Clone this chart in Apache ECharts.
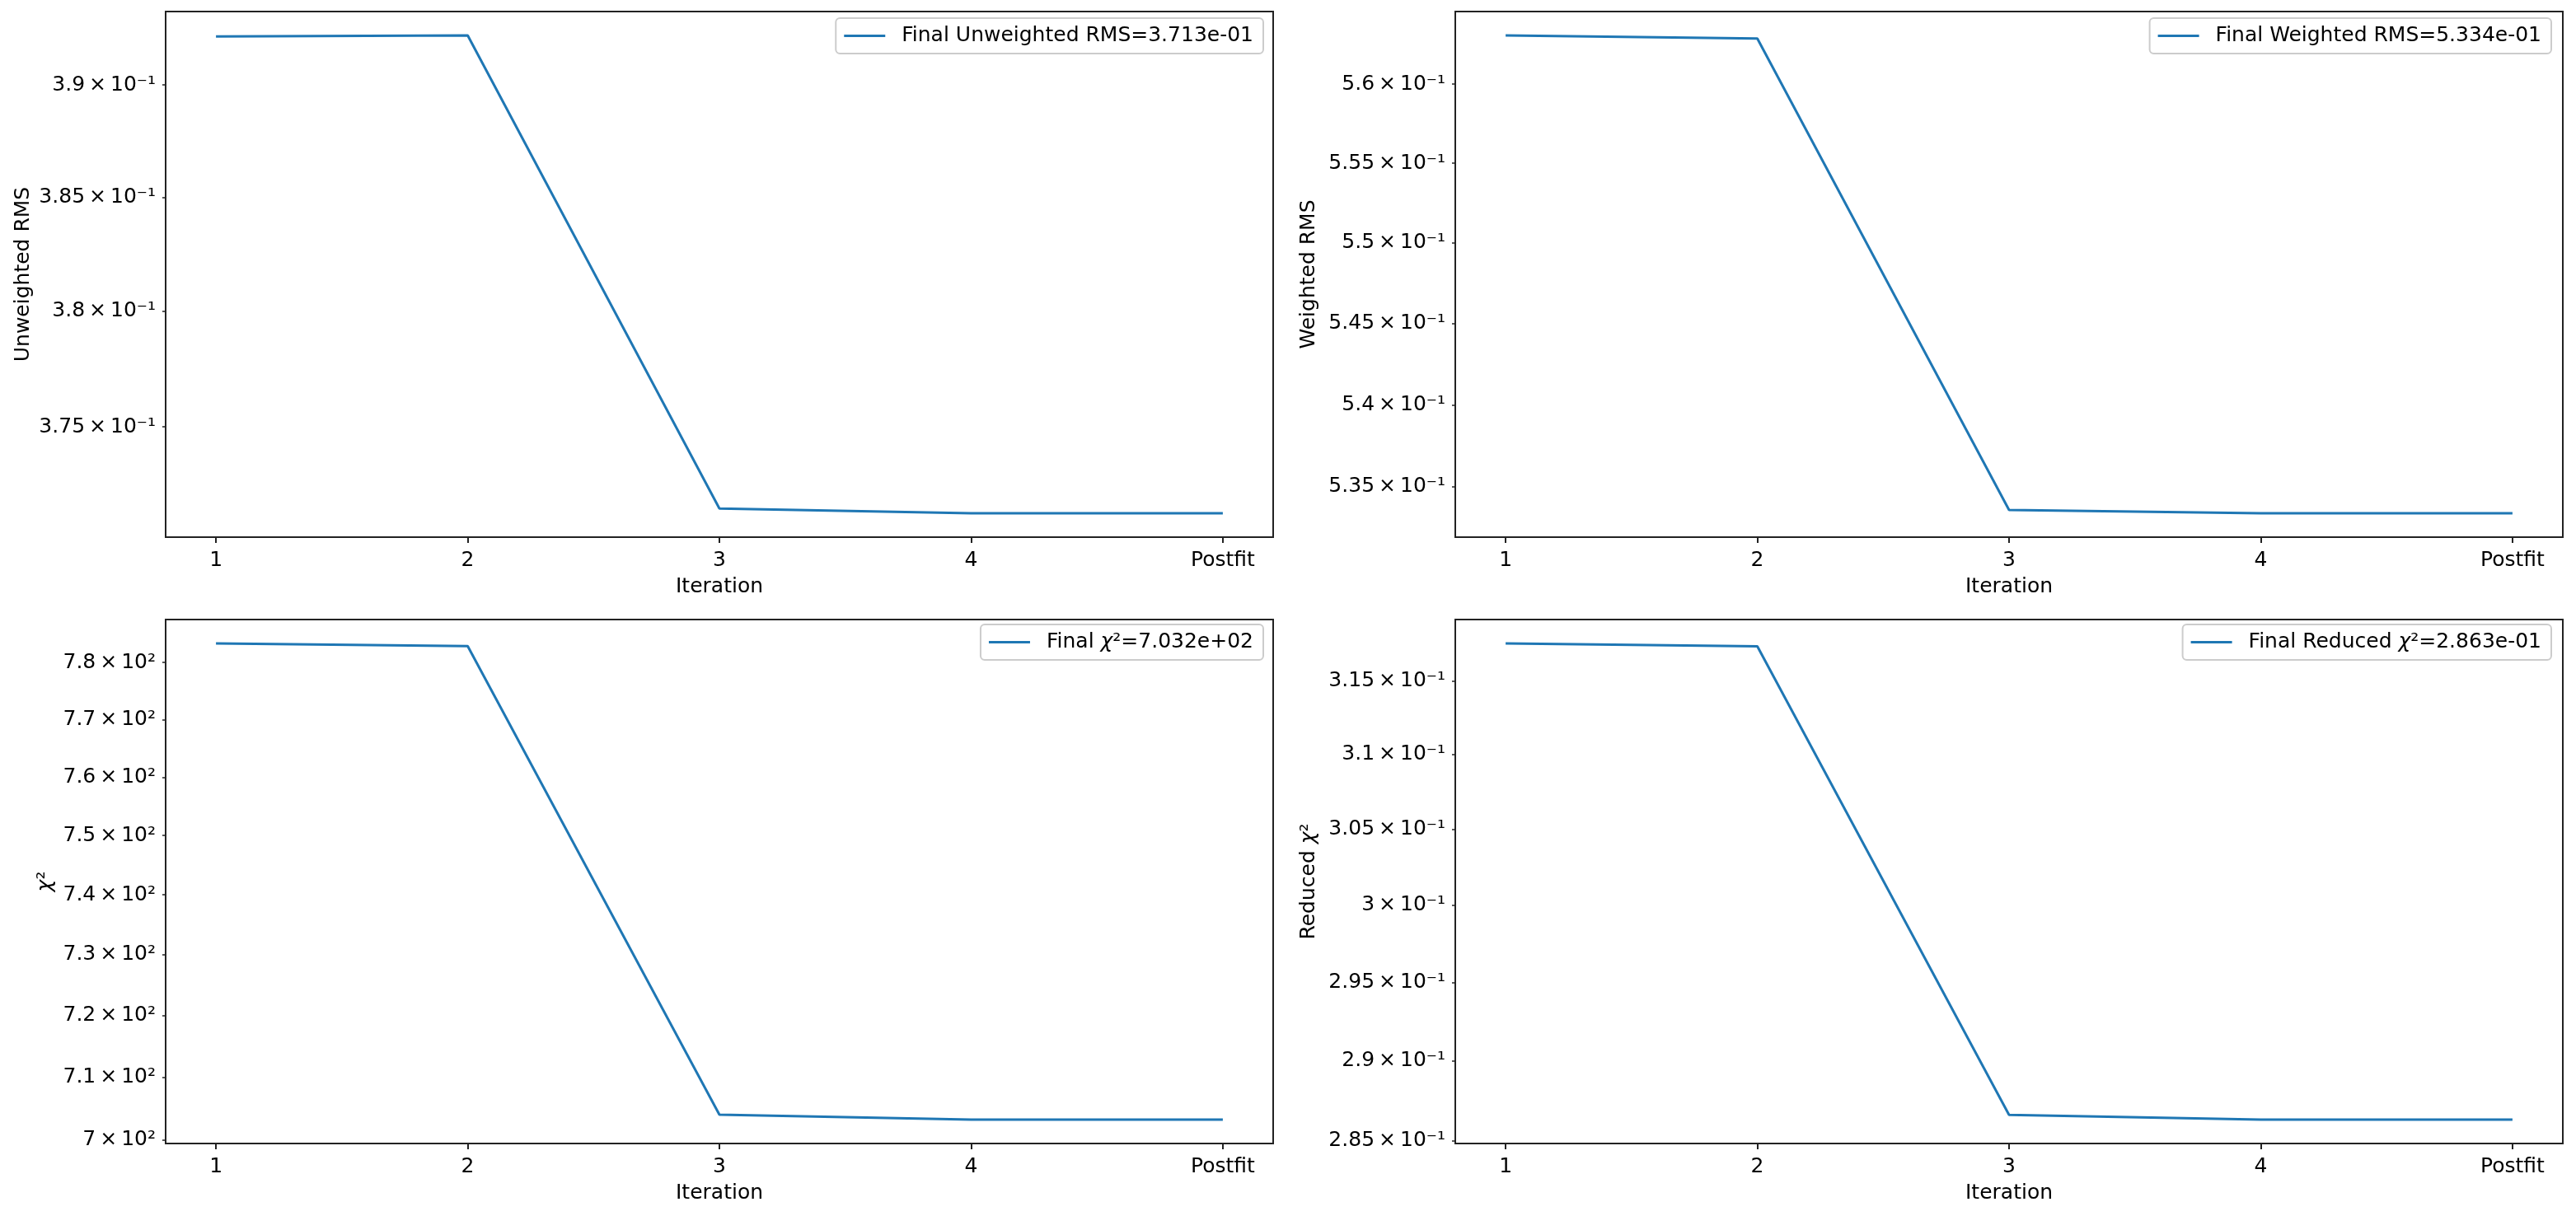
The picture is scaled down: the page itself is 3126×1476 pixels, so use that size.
<!DOCTYPE html>
<html>
<head>
<meta charset="utf-8">
<title>Fit convergence</title>
<script src="https://cdn.jsdelivr.net/npm/echarts@6/dist/echarts.min.js"></script>
<style>
  html, body { margin: 0; padding: 0; background: #fff; }
  #chart { width: 3126px; height: 1476px; }
</style>
</head>
<body>
<div id="chart"></div>
<script>
// values
var iterations = ['1', '2', '3', '4', 'Postfit']
var unweightedRms = [0.39217, 0.39222, 0.3715, 0.3713, 0.3713]
var weightedRms = [0.5631, 0.5629, 0.5336, 0.5334, 0.5334]
var chi2 = [783.4, 782.9, 704.0, 703.2, 703.2]
var reducedChi2 = [0.3176, 0.3174, 0.2866, 0.2863, 0.2863]

// labelled (minor) ticks of the log axes
var unweightedTicks = [0.375, 0.38, 0.385, 0.39]
var weightedTicks = [0.535, 0.54, 0.545, 0.55, 0.555, 0.56]
var chi2Ticks = [700, 710, 720, 730, 740, 750, 760, 770, 780]
var reducedTicks = [0.285, 0.29, 0.295, 0.3, 0.305, 0.31, 0.315]
var iterTicks = [0, 1, 2, 3, 4]

var font = 'DejaVu Sans'
var ink = '#222222'
var blue = '#1f77b4'
var sup = { '-': '\u207b', '0': '\u2070', '1': '\u00b9', '2': '\u00b2', '3': '\u00b3' }

function sciLabel (v) {
  var e = Math.floor(Math.log10(v) + 1e-9)
  var m = parseFloat((v / Math.pow(10, e)).toPrecision(6))
  var es = String(e).split('').map(function (c) { return sup[c] }).join('')
  return m + '\u2009\u00d7\u200910' + es
}

// matplotlib style 5% margins, in log space
function logRange (vals) {
  var lo = Math.log10(Math.min.apply(null, vals))
  var hi = Math.log10(Math.max.apply(null, vals))
  var pad = (hi - lo) * 0.05
  return [Math.pow(10, lo - pad), Math.pow(10, hi + pad)]
}

var rich = { i: { fontStyle: 'italic', fontSize: 25, fontFamily: font, color: '#000' } }

var panels = [
  { values: unweightedRms, ticks: unweightedTicks, yName: 'Unweighted RMS', series: 'Final Unweighted RMS=3.713e-01',
    grid: { left: 201, top: 14, width: 1344, height: 638 }, nameGap: 160, legend: { right: 1593, top: 22 } },
  { values: weightedRms, ticks: weightedTicks, yName: 'Weighted RMS', series: 'Final Weighted RMS=5.334e-01',
    grid: { left: 1766, top: 14, width: 1344, height: 638 }, nameGap: 165, legend: { right: 30, top: 22 } },
  { values: chi2, ticks: chi2Ticks, yName: '{i|\u03c7}\u00b2', series: 'Final \u03c7\u00b2=7.032e+02',
    grid: { left: 201, top: 752, width: 1344, height: 636 }, nameGap: 133, legend: { right: 1593, top: 758 } },
  { values: reducedChi2, ticks: reducedTicks, yName: 'Reduced {i|\u03c7}\u00b2', series: 'Final Reduced \u03c7\u00b2=2.863e-01',
    grid: { left: 1766, top: 752, width: 1344, height: 636 }, nameGap: 165, legend: { right: 30, top: 758 } }
]

var option = {
  backgroundColor: '#fff',
  animation: false,
  textStyle: { fontFamily: font },
  grid: panels.map(function (p) {
    return Object.assign({ show: true, borderColor: ink, borderWidth: 2, backgroundColor: 'transparent' }, p.grid)
  }),
  legend: panels.map(function (p) {
    return {
      data: [p.series],
      right: p.legend.right,
      top: p.legend.top,
      orient: 'vertical',
      icon: 'rect',
      itemWidth: 50,
      itemHeight: 3,
      padding: [9, 12, 9, 10],
      borderColor: '#cccccc',
      borderWidth: 2,
      borderRadius: 5,
      backgroundColor: '#fff',
      selectedMode: false,
      formatter: function (name) { return name.replace('\u03c7', '{i|\u03c7}') },
      textStyle: { fontSize: 25, color: '#000', fontFamily: font, padding: [0, 0, 0, 15], rich: rich }
    }
  }),
  xAxis: panels.map(function (p, i) {
    return {
      type: 'value',
      gridIndex: i,
      min: -0.2,
      max: 4.2,
      name: 'Iteration',
      nameLocation: 'middle',
      nameGap: 48,
      nameTextStyle: { fontSize: 25, color: '#000', fontFamily: font },
      axisLine: { show: true, onZero: false, lineStyle: { color: ink, width: 2 } },
      axisTick: { show: true, customValues: iterTicks, length: 7, lineStyle: { color: ink, width: 2 } },
      axisLabel: {
        customValues: iterTicks,
        formatter: function (v) { return iterations[v] },
        fontSize: 25, color: '#000', fontFamily: font, margin: 16
      },
      splitLine: { show: false }
    }
  }),
  yAxis: panels.map(function (p, i) {
    var r = logRange(p.values)
    return {
      type: 'log',
      logBase: 10,
      gridIndex: i,
      min: r[0],
      max: r[1],
      name: p.yName,
      nameLocation: 'middle',
      nameRotate: 90,
      nameGap: p.nameGap,
      nameTextStyle: { fontSize: 25, color: '#000', fontFamily: font, rich: rich },
      axisLine: { show: true, onZero: false, lineStyle: { color: ink, width: 2 } },
      axisTick: { show: true, customValues: p.ticks, length: 4, lineStyle: { color: ink, width: 1.5 } },
      axisLabel: { customValues: p.ticks, formatter: sciLabel, fontSize: 25, color: '#000', fontFamily: font, margin: 12 },
      splitLine: { show: false },
      minorTick: { show: false }
    }
  }),
  series: panels.map(function (p, i) {
    return {
      type: 'line',
      name: p.series,
      xAxisIndex: i,
      yAxisIndex: i,
      data: p.values.map(function (v, k) { return [k, v] }),
      symbol: 'none',
      lineStyle: { color: blue, width: 3 },
      itemStyle: { color: blue }
    }
  })
}

var charts = echarts.init(document.getElementById('chart'))
charts.setOption(option)
</script>
</body>
</html>
